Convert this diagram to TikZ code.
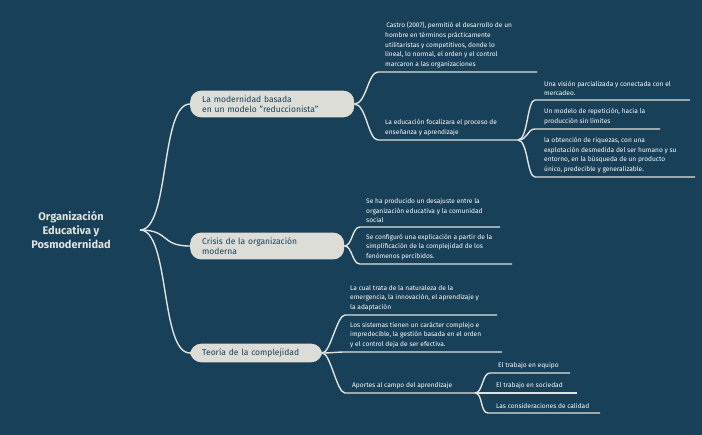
\documentclass[tikz,border=0pt]{standalone}
\usepackage{fontspec}
\setmainfont{Fira Sans}
\definecolor{bg}{RGB}{24,64,88}
\definecolor{pill}{RGB}{220,221,214}
\definecolor{ln}{RGB}{225,226,220}
\begin{document}
\begin{tikzpicture}[x=1pt,y=-1pt,
  txt/.style={text=white,font=\fontsize{6.6}{9.6}\selectfont,align=left,anchor=south west,inner sep=2pt},
  pillbox/.style={fill=pill,rounded corners=11pt,text=bg,font=\fontsize{8.5}{10}\selectfont,align=left,inner xsep=12pt,inner ysep=5pt},
  con/.style={draw=ln,line width=1.4pt},
  ul/.style={draw=ln,line width=1.1pt}]
\fill[bg] (0,0) rectangle (702,435);
\useasboundingbox (0,0) rectangle (702,435);
\node[text=ln,font=\bfseries\fontsize{11}{14}\selectfont,align=center] (root) at (71,230) {Organización\\Educativa y\\Posmodernidad};
\coordinate (r) at (140,230);
\node[pillbox,text width=140pt,anchor=west] (p1) at (190,104) {La modernidad basada\\en un modelo "reduccionista"};
\node[pillbox,text width=130pt,anchor=west] (p2) at (190,246) {Crisis de la organización\\moderna};
\node[pillbox,text width=108pt,anchor=west] (p3) at (190,353) {Teoría de la complejidad};
\foreach \p in {p1,p2,p3} \draw[con] (r) .. controls +(30,0) and +(-30,0) .. (\p.west);
% branch 1
\coordinate (a1) at (378,72); \coordinate (a1e) at (537,72);
\coordinate (a2) at (378,140); \coordinate (a2e) at (518,140);
\node[txt] (t1) at (383,70) {\,Castro (2007), permitió el desarrollo de un\\hombre en términos prácticamente\\utilitaristas y competitivos, donde lo\\lineal, lo normal, el orden y el control\\marcaron a las organizaciones};
\node[txt] (t2) at (383,138) {La educación focalizara el proceso de\\enseñanza y aprendizaje};
\draw[con] (p1.east) .. controls +(12,0) and +(-10,0) .. (a1) -- (a1e);
\draw[con] (p1.east) .. controls +(12,0) and +(-10,0) .. (a2) -- (a2e);
\coordinate (b1) at (535,100); \coordinate (b1e) at (690,100);
\coordinate (b2) at (535,129); \coordinate (b2e) at (660,129);
\coordinate (b3) at (535,177); \coordinate (b3e) at (695,177);
\node[txt] at (542,98) {Una visión parcializada y conectada con el\\mercadeo.};
\node[txt] at (542,127) {Un modelo de repetición, hacia la\\producción sin límites};
\node[txt] at (542,175) {la obtención de riquezas, con una\\explotación desmedida del ser humano y su\\entorno, en la búsqueda de un producto\\único, predecible y generalizable.};
\foreach \c/\e in {b1/b1e,b2/b2e,b3/b3e} \draw[con] (a2e) .. controls +(10,0) and +(-8,0) .. (\c) -- (\e);
% branch 2
\coordinate (c1) at (360,227); \coordinate (c1e) at (500,227);
\coordinate (c2) at (360,264); \coordinate (c2e) at (512,264);
\node[txt] at (364,225) {Se ha producido un desajuste entre la\\organización educativa y la comunidad\\social};
\node[txt] at (364,262) {Se configuró una explicación a partir de la\\simplificación de la complejidad de los\\fenómenos percibidos.};
\foreach \c/\e in {c1/c1e,c2/c2e} \draw[con] (p2.east) .. controls +(8,0) and +(-8,0) .. (\c) -- (\e);
% branch 3
\coordinate (d1) at (345,315); \coordinate (d1e) at (497,315);
\coordinate (d2) at (345,352); \coordinate (d2e) at (502,352);
\coordinate (d3) at (345,393); \coordinate (d3e) at (475,393);
\node[txt] at (348,313) {La cual trata de la naturaleza de la\\emergencia, la innovación, el aprendizaje y\\la adaptación};
\node[txt] at (348,350) {Los sistemas tienen un carácter complejo e\\impredecible, la gestión basada en el orden\\y el control deja de ser efectiva.};
\node[txt] at (350,391) {Aportes al campo del aprendizaje};
\foreach \c/\e in {d1/d1e,d2/d2e,d3/d3e} \draw[con] (p3.east) .. controls +(8,0) and +(-8,0) .. (\c) -- (\e);
\coordinate (e1) at (490,373); \coordinate (e1e) at (570,373);
\coordinate (e2) at (488,393); \coordinate (e2e) at (577,393);
\coordinate (e3) at (488,413); \coordinate (e3e) at (600,413);
\node[txt] at (496,371) {El trabajo en equipo};
\node[txt] at (494,391) {El trabajo en sociedad};
\node[txt] at (494,411) {Las consideraciones de calidad};
\foreach \c/\e in {e1/e1e,e2/e2e,e3/e3e} \draw[con] (d3e) .. controls +(8,0) and +(-8,0) .. (\c) -- (\e);
\end{tikzpicture}
\end{document}
